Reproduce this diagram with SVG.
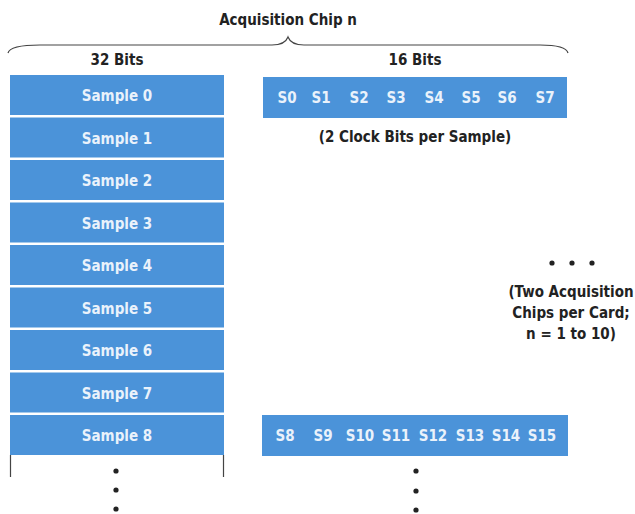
<svg xmlns="http://www.w3.org/2000/svg" width="635" height="514" viewBox="0 0 635 514">
<style>
text{font-family:"Liberation Sans Narrow","DejaVu Sans Condensed","Liberation Sans",sans-serif;font-weight:bold;}
.lbl{font-size:15px;fill:#222;text-anchor:middle;}
.box{fill:#4b93d9;}
.in{font-size:15px;fill:#eaf2fb;text-anchor:middle;}
.dot{fill:#222;}
.ln{stroke:#444;stroke-width:1.2;fill:none;}
</style>
<rect width="635" height="514" fill="#ffffff"/>
<g id="header">
<text class="lbl" x="288" y="25">Acquisition Chip n</text>
<path class="ln" d="M8,53 Q10,45 40,45 L272,45 Q285,45 288,37 Q291,45 304,45 L540,45 Q566,45 568,53" stroke-width="1.5"/>
<text class="lbl" x="117" y="65">32 Bits</text>
<text class="lbl" x="415" y="65">16 Bits</text>
</g>
<g id="samples">
<g id="sample0"><rect class="box" x="10" y="75" width="214" height="40"/><text class="in" x="117" y="101">Sample 0</text></g>
<g id="sample1"><rect class="box" x="10" y="117.5" width="214" height="40"/><text class="in" x="117" y="143.5">Sample 1</text></g>
<g id="sample2"><rect class="box" x="10" y="160" width="214" height="40"/><text class="in" x="117" y="186">Sample 2</text></g>
<g id="sample3"><rect class="box" x="10" y="202.5" width="214" height="40"/><text class="in" x="117" y="228.5">Sample 3</text></g>
<g id="sample4"><rect class="box" x="10" y="245" width="214" height="40"/><text class="in" x="117" y="271">Sample 4</text></g>
<g id="sample5"><rect class="box" x="10" y="287.5" width="214" height="40"/><text class="in" x="117" y="313.5">Sample 5</text></g>
<g id="sample6"><rect class="box" x="10" y="330" width="214" height="40"/><text class="in" x="117" y="356">Sample 6</text></g>
<g id="sample7"><rect class="box" x="10" y="372.5" width="214" height="40"/><text class="in" x="117" y="398.5">Sample 7</text></g>
<g id="sample8"><rect class="box" x="10" y="415" width="214" height="40"/><text class="in" x="117" y="441">Sample 8</text></g>
<line class="ln" x1="10.5" y1="455" x2="10.5" y2="477"/>
<line class="ln" x1="223.5" y1="455" x2="223.5" y2="477"/>
<circle class="dot" cx="116" cy="471" r="2.6"/>
<circle class="dot" cx="116" cy="490" r="2.6"/>
<circle class="dot" cx="116" cy="509" r="2.6"/>
</g>
<g id="clock0">
<rect class="box" x="263" y="77" width="304" height="41"/>
<text class="in" x="287" y="103">S0</text>
<text class="in" x="321" y="103">S1</text>
<text class="in" x="359" y="103">S2</text>
<text class="in" x="396" y="103">S3</text>
<text class="in" x="434" y="103">S4</text>
<text class="in" x="471" y="103">S5</text>
<text class="in" x="507" y="103">S6</text>
<text class="in" x="545" y="103">S7</text>
<text class="lbl" x="415" y="142">(2 Clock Bits per Sample)</text>
</g>
<g id="clock1">
<rect class="box" x="262" y="415" width="306" height="41"/>
<text class="in" x="285" y="441">S8</text>
<text class="in" x="323" y="441">S9</text>
<text class="in" x="360" y="441">S10</text>
<text class="in" x="396" y="441">S11</text>
<text class="in" x="433" y="441">S12</text>
<text class="in" x="470" y="441">S13</text>
<text class="in" x="506" y="441">S14</text>
<text class="in" x="542" y="441">S15</text>
<circle class="dot" cx="416" cy="471" r="2.6"/>
<circle class="dot" cx="416" cy="491" r="2.6"/>
<circle class="dot" cx="416" cy="510" r="2.6"/>
</g>
<g id="note">
<circle class="dot" cx="552" cy="263" r="2.6"/>
<circle class="dot" cx="572" cy="263" r="2.6"/>
<circle class="dot" cx="592" cy="263" r="2.6"/>
<text class="lbl" x="571" y="297">(Two Acquisition</text>
<text class="lbl" x="571" y="318">Chips per Card;</text>
<text class="lbl" x="571" y="339">n = 1 to 10)</text>
</g>
</svg>
